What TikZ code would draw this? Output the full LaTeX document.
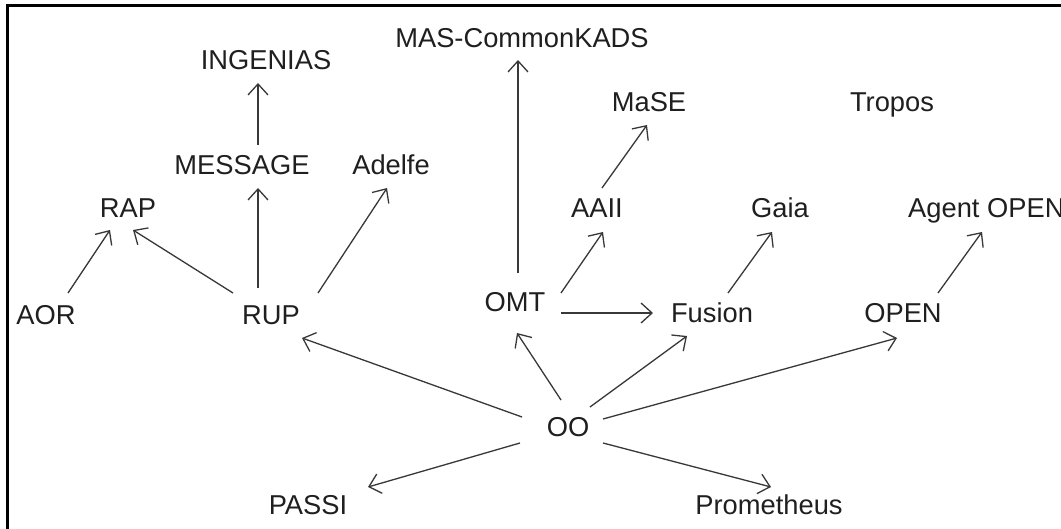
\documentclass[tikz,border=0pt]{standalone}
\usepackage{fontspec}
\setmainfont{Liberation Sans}
\usetikzlibrary{arrows.meta}
\begin{document}
\begin{tikzpicture}[x=1pt,y=-1pt,
  lbl/.style={text=black!88, font=\fontsize{27.3}{31}\selectfont, inner sep=0pt,
              text height=19.5pt, text depth=0pt, anchor=center},
  arr/.style={draw=black!78, line width=1.3pt,
              -{Straight Barb[length=11pt,width=20pt,line width=1.3pt]}}]
\useasboundingbox (0,0) rectangle (1061,529);
\fill[white] (0,0) rectangle (1061,529);
% frame: top and left edges only
\draw[line width=3pt] (7.5,529) -- (7.5,5.5) -- (1061,5.5);

% methodologies
\node[lbl] (mas)    at (522,38)  {MAS-CommonKADS};
\node[lbl] (ing)    at (266,60)  {INGENIAS};
\node[lbl] (mase)   at (649,102) {MaSE};
\node[lbl] (tropos) at (892,102) {Tropos};
\node[lbl] (msg)    at (242,165) {MESSAGE};
\node[lbl] (adelfe) at (391,165) {Adelfe};
\node[lbl] (rap)    at (128,208) {RAP};
\node[lbl] (aaii)   at (597,208) {AAII};
\node[lbl] (gaia)   at (780,208) {Gaia};
\node[lbl,anchor=west] (agent) at (908,208) {Agent OPEN};
\node[lbl] (aor)    at (46,315)  {AOR};
\node[lbl] (rup)    at (271,315) {RUP};
\node[lbl] (omt)    at (515,302) {OMT};
\node[lbl] (fusion) at (712,313) {Fusion};
\node[lbl] (open)   at (903,313) {OPEN};
\node[lbl] (oo)     at (568,427) {OO};
\node[lbl] (passi)  at (308,505) {PASSI};
\node[lbl] (prom)   at (769,505) {Prometheus};

% derivations
\draw[arr] ([shift={(16,-20)}]msg.center)   -- ([shift={(-8,23)}]ing.center);
\draw[arr] ([shift={(-13,-27)}]rup.center)  -- ([shift={(16,23)}]msg.center);
\draw[arr] ([shift={(47,-22)}]rup.center)   -- ([shift={(-4,23)}]adelfe.center);
\draw[arr] ([shift={(-38,-22)}]rup.center)  -- ([shift={(5,22)}]rap.center);
\draw[arr] ([shift={(22,-22)}]aor.center)   -- ([shift={(-18,22)}]rap.center);
\draw[arr] ([shift={(3,-29)}]omt.center)    -- ([shift={(-4,22)}]mas.center);
\draw[arr] ([shift={(46,-9)}]omt.center)    -- ([shift={(6,24)}]aaii.center);
\draw[arr] ([shift={(5,-20)}]aaii.center)   -- ([shift={(-2,23)}]mase.center);
\draw[arr] ([shift={(46,11)}]omt.center)    -- ([shift={(-59,0)}]fusion.center);
\draw[arr] ([shift={(16,-20)}]fusion.center) -- ([shift={(-8,24)}]gaia.center);
\draw[arr] ([shift={(35,-20)}]open.center)  -- ([shift={(74,24)}]agent.west);
\draw[arr] ([shift={(-46,-10)}]oo.center)   -- ([shift={(31,23)}]rup.center);
\draw[arr] ([shift={(-48,16)}]oo.center)    -- ([shift={(60,-18)}]passi.center);
\draw[arr] ([shift={(-7,-27)}]oo.center)    -- ([shift={(2,31)}]omt.center);
\draw[arr] ([shift={(22,-20)}]oo.center)    -- ([shift={(-25,23)}]fusion.center);
\draw[arr] ([shift={(35,-8)}]oo.center)     -- ([shift={(-6,25)}]open.center);
\draw[arr] ([shift={(35,16)}]oo.center)     -- ([shift={(2,-18)}]prom.center);
\end{tikzpicture}
\end{document}
